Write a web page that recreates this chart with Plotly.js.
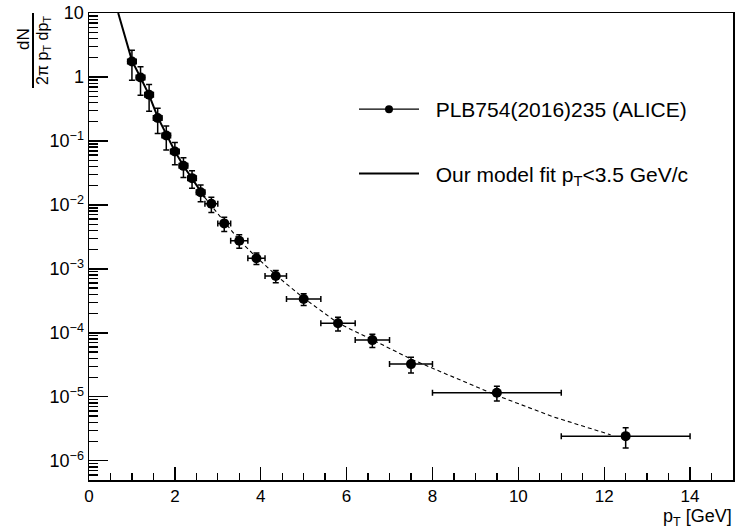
<!DOCTYPE html>
<html>
<head>
<meta charset="utf-8">
<script src="https://cdn.plot.ly/plotly-3.0.1.min.js"></script>
<style>body{margin:0;padding:0;background:#fff}#chart{width:736px;height:530px}</style>
</head>
<body>
<div id="chart"></div>
<script>
// ALICE data points
const dataPt   = [1.0, 1.2, 1.4, 1.6, 1.8, 2.0, 2.2, 2.4, 2.6, 2.85, 3.15, 3.5, 3.9, 4.35, 5.0, 5.8, 6.6, 7.5, 9.5, 12.5];
const dataPtErr= [0.1, 0.1, 0.1, 0.1, 0.1, 0.1, 0.1, 0.1, 0.1, 0.15, 0.15, 0.2, 0.2, 0.25, 0.4, 0.4, 0.4, 0.5, 1.5, 1.5];
const dataY    = [1.75, 0.98, 0.526, 0.228, 0.122, 0.0683, 0.0408, 0.0262, 0.0158, 0.0104, 0.00514, 0.00276, 0.00147, 0.000775, 0.000338, 0.000141, 7.7e-5, 3.25e-5, 1.16e-5, 2.43e-6];
const dataYErr = [0.86, 0.46, 0.235, 0.097, 0.05, 0.026, 0.014, 0.008, 0.0046, 0.0028, 0.0013, 0.00065, 0.0003, 0.00017, 0.00007, 3.4e-5, 1.8e-5, 9e-6, 3e-6, 8.5e-7];

// Model curve: fitted region (solid) and extrapolation (dashed)
const fitX   = [0.68, 0.8, 1.0, 1.2, 1.4, 1.6, 1.8, 2.0, 2.2, 2.4, 2.6, 2.7];
const fitY   = [10, 5.2, 1.8, 0.98, 0.52, 0.235, 0.125, 0.069, 0.041, 0.026, 0.016, 0.013];
const extX   = [2.7, 2.9, 3.2, 3.5, 3.9, 4.4, 5.0, 5.8, 6.6, 7.5, 8.3, 9.5, 10.8, 12.15];
const extY   = [0.013, 0.0088, 0.0049, 0.0028, 0.00152, 0.00075, 0.00035, 0.000142, 7.8e-5, 3.9e-5, 2.3e-5, 1.05e-5, 4.9e-6, 2.55e-6];

const yTickVals = [1e-6, 1e-5, 1e-4, 1e-3, 1e-2, 1e-1, 1, 10];
const yTickText = ['10<sup>\u22126</sup>', '10<sup>\u22125</sup>', '10<sup>\u22124</sup>', '10<sup>\u22123</sup>', '10<sup>\u22122</sup>', '10<sup>\u22121</sup>', '1', '10'];
const xTickVals = [0, 2, 4, 6, 8, 10, 12, 14];

const legendData  = '\u00a0\u00a0PLB754(2016)235 (ALICE)';
const legendModel = '\u00a0\u00a0Our model fit p<sub>T</sub><3.5 GeV/c';

// minor log ticks
const yMinor = [];
for (let e = -7; e <= 0; e++) for (let m = 2; m <= 9; m++) yMinor.push(m * Math.pow(10, e));

const L = 89, R = 733, T = 13, B = 480;
const px = v => (v - L) / (R - L);
const py = v => (B - v) / (B - T);

const font = 'Liberation Sans, Arial, sans-serif';

const traces = [
  {x: [null], y: [null], mode: 'lines+markers', name: legendData, line: {color: 'black', width: 1.3},
   marker: {color: 'black', size: 8}, showlegend: true, legendgroup: 'a', legendrank: 1},
  {x: fitX, y: fitY, mode: 'lines', line: {color: 'black', width: 2}, name: legendModel,
   showlegend: true, legendgroup: 'b', legendrank: 2, hoverinfo: 'skip'},
  {x: extX, y: extY, mode: 'lines', line: {color: 'black', width: 1.1, dash: '4px,3px'},
   showlegend: false, hoverinfo: 'skip'},
  {x: dataPt, y: dataY, mode: 'markers', marker: {color: 'black', size: 10, symbol: 'circle'},
   error_y: {type: 'data', array: dataYErr, visible: true, color: 'black', thickness: 1.5, width: 3},
   error_x: {type: 'data', array: dataPtErr, visible: true, color: 'black', thickness: 1.5, width: 3},
   showlegend: false}
];

const layout = {
  width: 736, height: 530,
  margin: {l: L, r: 736 - R, t: T, b: 530 - B, pad: 0},
  paper_bgcolor: 'white', plot_bgcolor: 'white',
  font: {family: font, color: 'black', size: 18},
  showlegend: true,
  legend: {x: px(354), y: py(89), xanchor: 'left', yanchor: 'top', bgcolor: 'rgba(0,0,0,0)',
           font: {family: font, size: 21, color: 'black'}, itemwidth: 60, tracegroupgap: 34,
           traceorder: 'grouped'},
  xaxis: {range: [0, 15], tickvals: xTickVals, ticks: 'inside', ticklen: 13, tickwidth: 1.3, tickcolor: 'black',
          showline: true, linecolor: 'black', linewidth: 1.5, mirror: true, showgrid: false, zeroline: false,
          tickfont: {family: font, size: 17},
          minor: {dtick: 0.5, tick0: 0, ticks: 'inside', ticklen: 7, tickwidth: 1.3, tickcolor: 'black', showgrid: false}},
  yaxis: {type: 'log', range: [-6.3, 1], tickvals: yTickVals, ticktext: yTickText, ticks: 'inside', ticklen: 19,
          tickwidth: 1.3, tickcolor: 'black',
          showline: true, linecolor: 'black', linewidth: 1.5, mirror: true, showgrid: false, zeroline: false,
          tickfont: {family: font, size: 18},
          minor: {tickmode: 'array', tickvals: yMinor, ticks: 'inside', ticklen: 9, tickwidth: 1.3, tickcolor: 'black', showgrid: false}},
  annotations: [
    {xref: 'paper', yref: 'paper', x: px(733), y: py(517), xanchor: 'right', yanchor: 'middle', borderpad: 0,
     text: 'p<sub>T</sub> [GeV]', showarrow: false, font: {family: font, size: 18}},
    {xref: 'paper', yref: 'paper', x: px(24), y: py(39), xanchor: 'center', yanchor: 'middle', textangle: -90,
     text: 'dN', showarrow: false, font: {family: font, size: 17}},
    {xref: 'paper', yref: 'paper', x: px(44), y: py(51), xanchor: 'center', yanchor: 'middle', textangle: -90,
     text: '2\u03c0 p<sub>T</sub> dp<sub>T</sub>', showarrow: false, font: {family: font, size: 16}}
  ],
  shapes: [
    {type: 'line', xref: 'paper', yref: 'paper', x0: px(33), x1: px(33), y0: py(13), y1: py(88),
     line: {color: 'black', width: 2}}
  ]
};

Plotly.newPlot('chart', traces, layout, {displayModeBar: false, staticPlot: true});
</script>
</body>
</html>
